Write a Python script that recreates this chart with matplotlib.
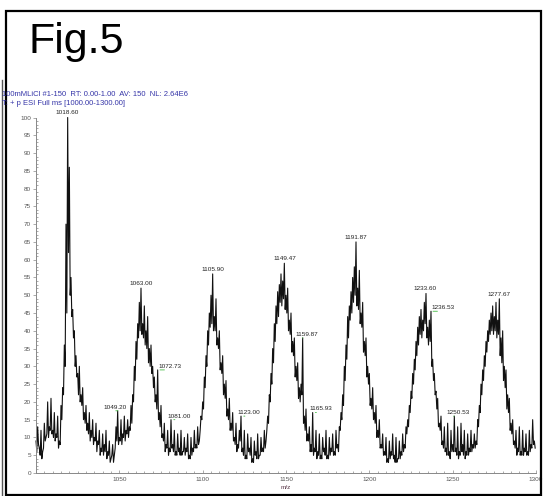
import numpy as np
import matplotlib.pyplot as plt
from matplotlib.ticker import MultipleLocator

plt.rcParams['font.family'] = ['Liberation Sans', 'DejaVu Sans']

# relative abundance, upper reading per m/z unit starting at 1000
mz_start = 1000
intensity = [
    9, 13, 7, 12, 6, 14, 10, 20, 13, 21,
    12, 17, 11, 16, 9, 19, 24, 36, 70, 100,
    86, 55, 46, 40, 33, 28, 30, 22, 24, 17,
    19, 14, 17, 12, 15, 10, 14, 9, 12, 7,
    11, 8, 12, 6, 9, 4, 8, 5, 13, 17.5,
    10, 15, 11, 16, 12, 15, 13, 19, 22, 30,
    37, 42, 48, 52, 42, 47, 40, 44, 35, 36,
    30, 27, 22, 29, 17, 19, 11, 14, 8, 12,
    7, 15, 8, 12, 6, 11, 7, 12, 6, 10,
    7, 11, 5, 10, 7, 12, 8, 13, 9, 16,
    20, 27, 33, 40, 45, 50, 56, 44, 49, 38,
    40, 31, 33, 25, 26, 18, 21, 14, 17, 10,
    14, 8, 12, 16, 7, 12, 5, 11, 7, 10,
    4, 9, 6, 11, 5, 10, 7, 12, 9, 16,
    22, 28, 35, 42, 47, 51, 53, 56, 54, 59,
    50, 52, 43, 45, 37, 38, 30, 31, 24, 25,
    38, 16, 18, 11, 13, 8, 17, 7, 12, 6,
    11, 5, 10, 7, 12, 5, 10, 7, 11, 6,
    12, 8, 13, 17, 22, 30, 36, 44, 47, 51,
    55, 58, 65, 52, 57, 45, 48, 37, 38, 30,
    28, 21, 24, 17, 19, 12, 15, 8, 11, 6,
    10, 4, 9, 6, 11, 5, 10, 4, 9, 6,
    11, 8, 13, 15, 19, 23, 28, 32, 37, 41,
    44, 46, 43, 48, 50.5, 41, 43, 45.5, 32, 28,
    23, 21, 14, 16, 9, 13, 7, 14, 6, 12,
    8, 16, 7, 13, 6, 14, 8, 12, 6, 11,
    7, 12, 8, 11, 9, 15, 19, 25, 29, 33,
    37, 40, 43, 45, 47, 44, 48, 43, 49, 38,
    40, 30, 29, 22, 21, 14, 15, 9, 12, 7,
    13, 6, 12, 7, 11, 6, 12, 8, 15, 9,
]
# lower edge of the noise band, read half a unit after each reading above
trough = [
    6, 8, 5, 4, 7, 9, 11, 10, 12, 11,
    10, 9, 10, 7, 8, 15, 22, 30, 45, 62,
    50, 44, 38, 30, 27, 22, 20, 19, 15, 14,
    12, 11, 9, 10, 8, 9, 6, 8, 5, 6,
    5, 6, 4, 5, 3, 5, 3, 7, 9, 8,
    9, 8, 10, 9, 11, 10, 12, 14, 20, 26,
    32, 38, 40, 39, 38, 36, 35, 31, 30, 28,
    24, 20, 18, 15, 13, 10, 9, 6, 7, 5,
    6, 7, 6, 5, 5, 6, 5, 5, 6, 5,
    6, 4, 4, 5, 6, 7, 7, 8, 12, 15,
    18, 24, 30, 36, 41, 42, 40, 40, 36, 35,
    29, 28, 22, 21, 16, 15, 12, 12, 9, 8,
    6, 7, 9, 6, 5, 4, 4, 6, 5, 3,
    3, 5, 4, 4, 5, 6, 6, 7, 12, 14,
    20, 25, 31, 37, 42, 44, 48, 47, 49, 46,
    45, 40, 39, 34, 33, 27, 26, 21, 20, 22,
    14, 12, 9, 9, 6, 6, 5, 6, 4, 5,
    4, 4, 6, 5, 4, 4, 5, 6, 5, 5,
    7, 6, 12, 15, 19, 26, 32, 38, 43, 45,
    48, 50, 47, 46, 42, 41, 34, 33, 27, 25,
    19, 18, 15, 14, 10, 10, 7, 7, 5, 5,
    3, 3, 4, 5, 4, 3, 3, 4, 4, 5,
    6, 7, 11, 13, 17, 21, 25, 29, 33, 36,
    39, 38, 40, 42, 38, 36, 37, 30, 26, 22,
    18, 13, 12, 8, 7, 6, 5, 5, 4, 6,
    6, 6, 5, 4, 5, 6, 5, 4, 5, 5,
    6, 6, 7, 7, 8, 13, 17, 22, 26, 30,
    34, 37, 39, 40, 39, 40, 38, 39, 33, 31,
    26, 24, 18, 17, 12, 11, 8, 7, 5, 6,
    5, 5, 5, 6, 5, 5, 6, 7, 8, 7,
]
mz = mz_start + np.arange(len(intensity))

# labelled peaks
main_peaks = [1018.60, 1063.00, 1105.90, 1149.47, 1191.87, 1233.60, 1277.67]
minor_peaks = [1049.20, 1072.73, 1081.00, 1123.00, 1159.87, 1165.93, 1236.53, 1250.53]
minor_dx = [-2, 9, 6, 6, 3, 6, 9, 3]  # text shift in points

fig = plt.figure(figsize=(5.44, 4.96), dpi=100)
ax = fig.add_axes([36/544, 23/496, 500/544, 355.5/496])

xs = np.column_stack([mz, mz + 0.5]).ravel()
ys = np.column_stack([intensity, trough]).ravel()
ax.plot(xs, ys, color='#111111', lw=0.8, clip_on=False)

def peak_height(m):
    return intensity[int(round(m)) - mz_start]

for m in main_peaks:
    ax.annotate("%.2f" % m, (m, peak_height(m)), xytext=(0, 1.5),
                textcoords='offset points', ha='center', va='bottom',
                fontsize=4.6, color='#222222')
for m, dx in zip(minor_peaks, minor_dx):
    h = peak_height(m)
    ax.annotate("%.2f" % m, (m, h), xytext=(dx, 0.8),
                textcoords='offset points', ha='center', va='bottom',
                fontsize=4.6, color='#222222')
    ax.annotate("", (m, h), xytext=(dx * 0.8, 0), textcoords='offset points',
                arrowprops=dict(arrowstyle='-', color='#44bb44', lw=0.6))

ax.set_xlim(1000, 1300)
ax.set_ylim(0, 100)
ax.set_xticks(range(1050, 1301, 50))
ax.xaxis.set_minor_locator(MultipleLocator(5))
ax.yaxis.set_major_locator(MultipleLocator(5))
ax.yaxis.set_minor_locator(MultipleLocator(1))
ax.tick_params(axis='both', which='both', colors='#888888', labelcolor='#555555',
               labelsize=4.6, width=0.5)
ax.tick_params(axis='y', which='major', direction='out', length=2.5, pad=1)
ax.tick_params(axis='y', which='minor', direction='in', length=1.5)
ax.tick_params(axis='x', which='major', direction='in', length=2.5, pad=3)
ax.tick_params(axis='x', which='minor', direction='in', length=1.5)
for s in ['top', 'right']:
    ax.spines[s].set_visible(False)
for s in ['left', 'bottom']:
    ax.spines[s].set_color('#888888')
    ax.spines[s].set_linewidth(0.7)
ax.set_xlabel("m/z", fontsize=4.6, color='#553344', labelpad=2)

fig.text(2/544, 1 - 95/496, "100mMLiCl #1-150  RT: 0.00-1.00  AV: 150  NL: 2.64E6",
         fontsize=5.5, color='#3535a8', va='center')
fig.text(2/544, 1 - 103.5/496, "T: + p ESI Full ms [1000.00-1300.00]",
         fontsize=5.5, color='#3535a8', va='center')
fig.text(29/544, 1 - 53/496, "Fig.5", fontsize=31, color='black', va='baseline')

# outer frame of the figure panel
frame = plt.Rectangle((6/544, 1/496), 535/544, 484/496, transform=fig.transFigure,
                      fill=False, edgecolor='black', lw=1.6)
fig.patches.append(frame)
fig.add_artist(plt.Line2D([2/544, 2/544], [0, 1 - 80/496], transform=fig.transFigure,
                          color='#555555', lw=1.0))

fig.savefig("out.png", dpi=100)
